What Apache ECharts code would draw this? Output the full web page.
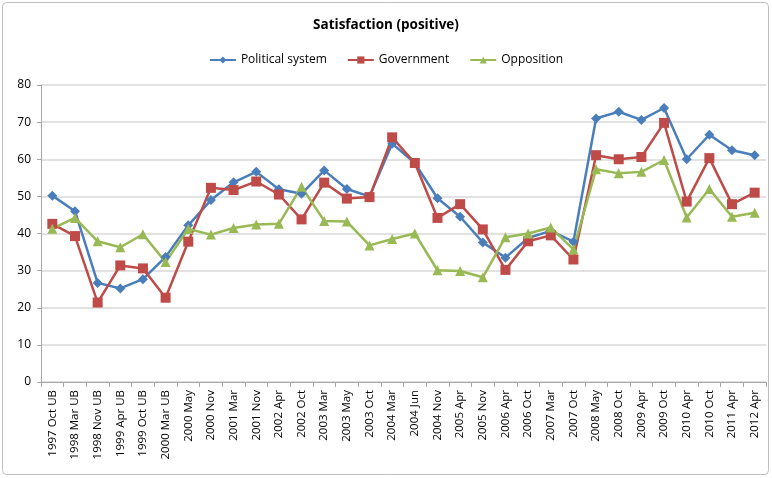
<!DOCTYPE html>
<html>
<head>
<meta charset="utf-8">
<script src="https://cdn.jsdelivr.net/npm/echarts@6/dist/echarts.min.js"></script>
<style>
  html, body { margin: 0; padding: 0; background: #fff; }
  #chart { width: 772px; height: 478px; }
</style>
</head>
<body>
<div id="chart"></div>
<script>
// Survey waves (UB = earlier survey series)
const categories = [
  '1997 Oct UB', '1998 Mar UB', '1998 Nov UB', '1999 Apr UB', '1999 Oct UB', '2000 Mar UB',
  '2000 May', '2000 Nov', '2001 Mar', '2001 Nov', '2002 Apr', '2002 Oct',
  '2003 Mar', '2003 May', '2003 Oct', '2004 Mar', '2004 Jun', '2004 Nov',
  '2005 Apr', '2005 Nov', '2006 Apr', '2006 Oct', '2007 Mar', '2007 Oct',
  '2008 May', '2008 Oct', '2009 Apr', '2009 Oct', '2010 Apr', '2010 Oct',
  '2011 Apr', '2012 Apr'
];

const politicalSystem = [
  50.2, 46.0, 26.7, 25.2, 27.7, 33.7, 42.2, 49.0, 53.8, 56.6, 51.9, 50.7,
  57.0, 52.0, 50.0, 64.2, 59.0, 49.5, 44.5, 37.6, 33.5, 38.8, 40.7, 37.8,
  71.0, 72.8, 70.6, 73.8, 60.0, 66.6, 62.4, 61.1
];

const government = [
  42.6, 39.3, 21.4, 31.4, 30.6, 22.7, 37.8, 52.3, 51.7, 54.0, 50.5, 43.8,
  53.7, 49.4, 49.8, 65.9, 59.0, 44.2, 47.9, 41.1, 30.2, 37.9, 39.5, 33.0,
  61.1, 60.0, 60.6, 69.8, 48.6, 60.3, 47.9, 51.0
];

const opposition = [
  41.3, 44.2, 37.9, 36.3, 39.8, 32.3, 41.2, 39.7, 41.5, 42.4, 42.6, 52.6,
  43.4, 43.2, 36.8, 38.5, 40.0, 30.1, 29.9, 28.2, 39.0, 40.0, 41.6, 35.7,
  57.3, 56.2, 56.6, 59.8, 44.3, 52.0, 44.5, 45.6
];

const yTicks = { min: 0, max: 80, interval: 10 };

const font = '"Open Sans", "Noto Sans", sans-serif';

const chart = echarts.init(document.getElementById('chart'), null, { renderer: 'canvas' });

function lineSeries(name, data, color, symbol, size) {
  return {
    name: name,
    type: 'line',
    data: data,
    symbol: symbol,
    symbolSize: size,
    showSymbol: true,
    lineStyle: { color: color, width: 2.5 },
    itemStyle: { color: color, borderColor: color, borderWidth: 0 },
    emphasis: { disabled: true },
    animation: false
  };
}

chart.setOption({
  backgroundColor: '#ffffff',
  animation: false,
  graphic: [{
    type: 'rect',
    shape: { x: 2.5, y: 2.5, width: 766, height: 472, r: 4 },
    style: { fill: 'none', stroke: '#bfbfbf', lineWidth: 1 },
    silent: true,
    z: -1
  }],
  title: {
    text: 'Satisfaction (positive)',
    left: 'center',
    top: 13,
    textStyle: { fontFamily: font, fontSize: 13.5, fontWeight: 'bold', color: '#000' }
  },
  legend: {
    top: 49,
    left: 'center',
    itemWidth: 26,
    itemHeight: 9,
    itemGap: 20,
    textStyle: { fontFamily: font, fontSize: 12, color: '#000' },
    data: ['Political system', 'Government', 'Opposition']
  },
  grid: { left: 41, right: 6, top: 85, bottom: 96, containLabel: false },
  xAxis: {
    type: 'category',
    data: categories,
    boundaryGap: true,
    axisLine: { lineStyle: { color: '#a6a6a6' } },
    axisTick: { show: true, alignWithLabel: false, length: 5, lineStyle: { color: '#a6a6a6' } },
    axisLabel: {
      interval: 0,
      rotate: 90,
      margin: 8,
      fontFamily: font,
      fontSize: 11.5,
      color: '#000'
    },
    splitLine: { show: false }
  },
  yAxis: {
    type: 'value',
    min: yTicks.min,
    max: yTicks.max,
    interval: yTicks.interval,
    axisLine: { show: true, lineStyle: { color: '#a6a6a6' } },
    axisTick: { show: true, length: 4, lineStyle: { color: '#a6a6a6' } },
    axisLabel: { margin: 10, fontFamily: font, fontSize: 12, color: '#000' },
    splitLine: { show: true, lineStyle: { color: '#d9d9d9', width: 1.5 } }
  },
  series: [
    lineSeries('Political system', politicalSystem, '#4a7ebb', 'diamond', 10),
    lineSeries('Government', government, '#be4b48', 'rect', 10),
    lineSeries('Opposition', opposition, '#98b954', 'triangle', 10)
  ]
});
</script>
</body>
</html>
